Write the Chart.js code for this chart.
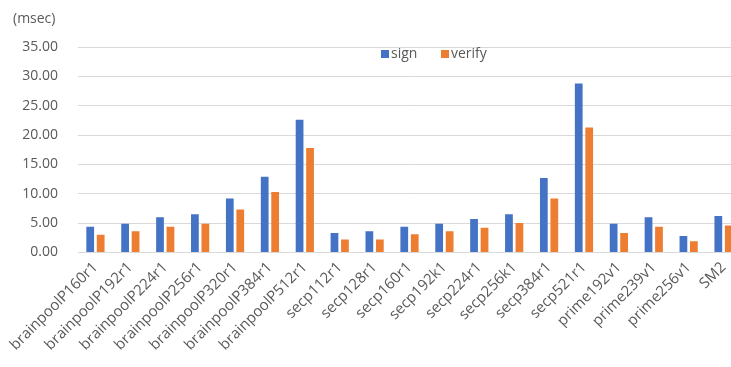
<!DOCTYPE html>
<html>
<head>
<meta charset="utf-8">
<script src="https://cdn.jsdelivr.net/npm/chart.js@4/dist/chart.umd.min.js"></script>
<style>
  html, body { margin: 0; padding: 0; background: #fff; overflow: hidden; }
  #wrap { width: 745px; height: 367px; position: relative; }
</style>
</head>
<body>
<div id="wrap"><canvas id="c"></canvas></div>
<script>
// Elliptic curves benchmarked
const curves = [
  'brainpoolP160r1', 'brainpoolP192r1', 'brainpoolP224r1', 'brainpoolP256r1',
  'brainpoolP320r1', 'brainpoolP384r1', 'brainpoolP512r1',
  'secp112r1', 'secp128r1', 'secp160r1', 'secp192k1', 'secp224r1',
  'secp256k1', 'secp384r1', 'secp521r1',
  'prime192v1', 'prime239v1', 'prime256v1', 'SM2'
];
// Average time per operation (msec)
const signMs   = [4.4, 4.9, 6.0, 6.5, 9.2, 12.9, 22.6, 3.3, 3.6, 4.4, 4.9, 5.7, 6.5, 12.7, 28.8, 4.9, 6.0, 2.8, 6.2];
const verifyMs = [3.0, 3.6, 4.4, 4.9, 7.3, 10.3, 17.8, 2.2, 2.2, 3.1, 3.6, 4.2, 5.0, 9.2, 21.3, 3.3, 4.4, 1.9, 4.6];
const seriesNames = ['sign', 'verify'];
const unitLabel = '(msec)';

const FONT = '"Open Sans", "Noto Sans", sans-serif';
const TEXT = '#595959';
const BLUE = '#4472C4';
const ORANGE = '#ED7D31';

// Unit caption and an in-plot legend drawn on the canvas
const decorations = {
  id: 'decorations',
  afterDraw(chart) {
    const ctx = chart.ctx;
    ctx.save();
    ctx.font = '14px ' + FONT;
    ctx.fillStyle = TEXT;
    ctx.textBaseline = 'middle';
    ctx.textAlign = 'left';
    ctx.fillText(unitLabel, 13, 19);

    const slots = [381, 441];
    const y = 54;
    chart.data.datasets.forEach((ds, i) => {
      const x = slots[i];
      ctx.fillStyle = ds.backgroundColor;
      ctx.fillRect(x, y - 4, 8, 8);
      ctx.fillStyle = TEXT;
      ctx.fillText(ds.label, x + 10, y);
    });
    ctx.restore();
  }
};

new Chart(document.getElementById('c'), {
  type: 'bar',
  data: {
    labels: curves,
    datasets: [
      { label: seriesNames[0], data: signMs, backgroundColor: BLUE },
      { label: seriesNames[1], data: verifyMs, backgroundColor: ORANGE }
    ]
  },
  options: {
    responsive: true,
    maintainAspectRatio: false,
    animation: false,
    layout: { padding: { left: 18, right: 4, top: 47, bottom: 7 } },
    datasets: { bar: { categoryPercentage: 0.6, barPercentage: 0.74 } },
    plugins: { legend: { display: false }, tooltip: { enabled: false } },
    scales: {
      x: {
        grid: { display: false, drawTicks: false },
        border: { color: '#d9d9d9', width: 1 },
        ticks: {
          color: TEXT,
          font: { family: FONT, size: 15 },
          maxRotation: 45, minRotation: 45,
          padding: 6,
          autoSkip: false
        },
        // rotated labels may run past the left edge of the plot
        afterFit(scale) { scale.paddingLeft = 0; scale.paddingRight = 0; }
      },
      y: {
        min: 0, max: 35,
        grid: { color: '#d9d9d9', lineWidth: 1, drawTicks: false },
        border: { display: false },
        ticks: {
          stepSize: 5,
          color: TEXT,
          font: { family: FONT, size: 14 },
          padding: 20,
          callback: v => v.toFixed(2)
        },
        // fixed axis width: labels plus a single gap to the plot
        afterFit(scale) { scale.width = 60; }
      }
    }
  },
  plugins: [decorations]
});
</script>
</body>
</html>
